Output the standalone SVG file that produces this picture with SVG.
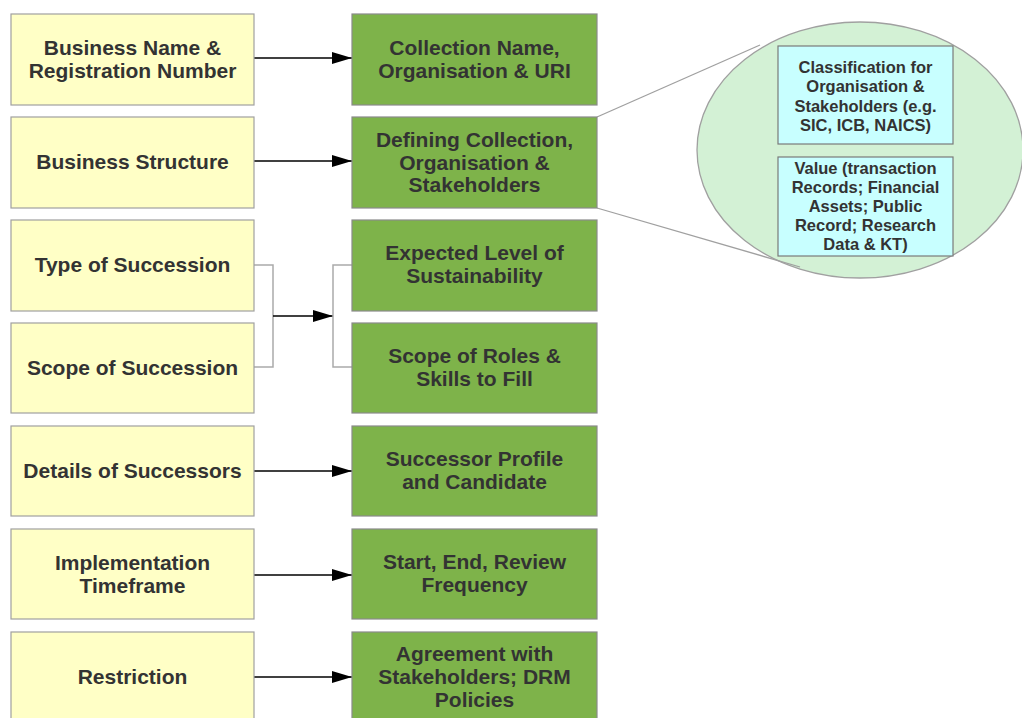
<svg xmlns="http://www.w3.org/2000/svg" width="1022" height="718" viewBox="0 0 1022 718">
  <style>
    .src { fill: #ffffc6; stroke: #a0a0a0; stroke-width: 1.2; }
    .dst { fill: #7eb34a; stroke: #8a8a8a; stroke-width: 1.2; }
    .sub { fill: #c8ffff; stroke: #7a7a7a; stroke-width: 1.2; }
    .lbl { font-family: "Liberation Sans", Arial, sans-serif; font-weight: bold; font-size: 21px; fill: #333333; text-anchor: middle; }
    .sml { font-family: "Liberation Sans", Arial, sans-serif; font-weight: bold; font-size: 16.5px; fill: #333333; text-anchor: middle; }
    .arrow { stroke: #000000; stroke-width: 1.3; fill: none; }
    .join { stroke: #aaaaaa; stroke-width: 1.5; fill: none; }
    .zoom { stroke: #a0a0a0; stroke-width: 1.3; fill: none; }
  </style>
  <defs>
    <marker id="head" viewBox="0 0 20 12" refX="20" refY="6" markerWidth="20" markerHeight="12" markerUnits="userSpaceOnUse" orient="auto">
      <path d="M0,0 L20,6 L0,12 Z" fill="#000000"/>
    </marker>
  </defs>

  <rect width="1022" height="718" fill="#ffffff"/>

  <!-- detail bubble for "Defining Collection" -->
  <g id="detail">
    <ellipse cx="860" cy="150" rx="163" ry="128" fill="#d3f1d5" stroke="#a0a0a0" stroke-width="1.3"/>
    <line class="zoom" x1="597" y1="117" x2="760" y2="45"/>
    <line class="zoom" x1="597" y1="208" x2="800" y2="267"/>
    <g id="classification">
      <rect class="sub" x="778" y="46" width="175" height="98"/>
      <text class="sml" x="865.5" y="73">Classification for</text>
      <text class="sml" x="865.5" y="92">Organisation &amp;</text>
      <text class="sml" x="865.5" y="112">Stakeholders (e.g.</text>
      <text class="sml" x="865.5" y="131">SIC, ICB, NAICS)</text>
    </g>
    <g id="value">
      <rect class="sub" x="778" y="157" width="175" height="99"/>
      <text class="sml" x="865.5" y="174">Value (transaction</text>
      <text class="sml" x="865.5" y="193">Records; Financial</text>
      <text class="sml" x="865.5" y="212">Assets; Public</text>
      <text class="sml" x="865.5" y="231">Record; Research</text>
      <text class="sml" x="865.5" y="250">Data &amp; KT)</text>
    </g>
  </g>

  <!-- connectors -->
  <g id="connectors">
    <line class="arrow" x1="254" y1="58" x2="352" y2="58" marker-end="url(#head)"/>
    <line class="arrow" x1="254" y1="161" x2="352" y2="161" marker-end="url(#head)"/>
    <polyline class="join" points="254,265 273,265 273,367 254,367"/>
    <line class="arrow" x1="273" y1="316" x2="333" y2="316" marker-end="url(#head)"/>
    <polyline class="join" points="352,265 333,265 333,367 352,367"/>
    <line class="arrow" x1="254" y1="471" x2="352" y2="471" marker-end="url(#head)"/>
    <line class="arrow" x1="254" y1="575" x2="352" y2="575" marker-end="url(#head)"/>
    <line class="arrow" x1="254" y1="677" x2="352" y2="677" marker-end="url(#head)"/>
  </g>

  <!-- left column -->
  <g id="business-name">
    <rect class="src" x="11" y="14" width="243" height="91"/>
    <text class="lbl" x="132.5" y="55">Business Name &amp;</text>
    <text class="lbl" x="132.5" y="78">Registration Number</text>
  </g>
  <g id="business-structure">
    <rect class="src" x="11" y="117" width="243" height="91"/>
    <text class="lbl" x="132.5" y="169">Business Structure</text>
  </g>
  <g id="type-of-succession">
    <rect class="src" x="11" y="220" width="243" height="91"/>
    <text class="lbl" x="132.5" y="272">Type of Succession</text>
  </g>
  <g id="scope-of-succession">
    <rect class="src" x="11" y="323" width="243" height="90"/>
    <text class="lbl" x="132.5" y="375">Scope of Succession</text>
  </g>
  <g id="details-of-successors">
    <rect class="src" x="11" y="426" width="243" height="90"/>
    <text class="lbl" x="132.5" y="478">Details of Successors</text>
  </g>
  <g id="implementation-timeframe">
    <rect class="src" x="11" y="529" width="243" height="90"/>
    <text class="lbl" x="132.5" y="570">Implementation</text>
    <text class="lbl" x="132.5" y="593">Timeframe</text>
  </g>
  <g id="restriction">
    <rect class="src" x="11" y="632" width="243" height="92"/>
    <text class="lbl" x="132.5" y="684">Restriction</text>
  </g>

  <!-- right column -->
  <g id="collection-name">
    <rect class="dst" x="352" y="14" width="245" height="91"/>
    <text class="lbl" x="474.5" y="55">Collection Name,</text>
    <text class="lbl" x="474.5" y="78">Organisation &amp; URI</text>
  </g>
  <g id="defining-collection">
    <rect class="dst" x="352" y="117" width="245" height="91"/>
    <text class="lbl" x="474.5" y="147">Defining Collection,</text>
    <text class="lbl" x="474.5" y="170">Organisation &amp;</text>
    <text class="lbl" x="474.5" y="192">Stakeholders</text>
  </g>
  <g id="sustainability">
    <rect class="dst" x="352" y="220" width="245" height="91"/>
    <text class="lbl" x="474.5" y="260">Expected Level of</text>
    <text class="lbl" x="474.5" y="283">Sustainability</text>
  </g>
  <g id="roles-skills">
    <rect class="dst" x="352" y="323" width="245" height="90"/>
    <text class="lbl" x="474.5" y="363">Scope of Roles &amp;</text>
    <text class="lbl" x="474.5" y="386">Skills to Fill</text>
  </g>
  <g id="successor-profile">
    <rect class="dst" x="352" y="426" width="245" height="90"/>
    <text class="lbl" x="474.5" y="466">Successor Profile</text>
    <text class="lbl" x="474.5" y="489">and Candidate</text>
  </g>
  <g id="review-frequency">
    <rect class="dst" x="352" y="529" width="245" height="90"/>
    <text class="lbl" x="474.5" y="569">Start, End, Review</text>
    <text class="lbl" x="474.5" y="592">Frequency</text>
  </g>
  <g id="agreement">
    <rect class="dst" x="352" y="632" width="245" height="92"/>
    <text class="lbl" x="474.5" y="661">Agreement with</text>
    <text class="lbl" x="474.5" y="684">Stakeholders; DRM</text>
    <text class="lbl" x="474.5" y="707">Policies</text>
  </g>
</svg>
